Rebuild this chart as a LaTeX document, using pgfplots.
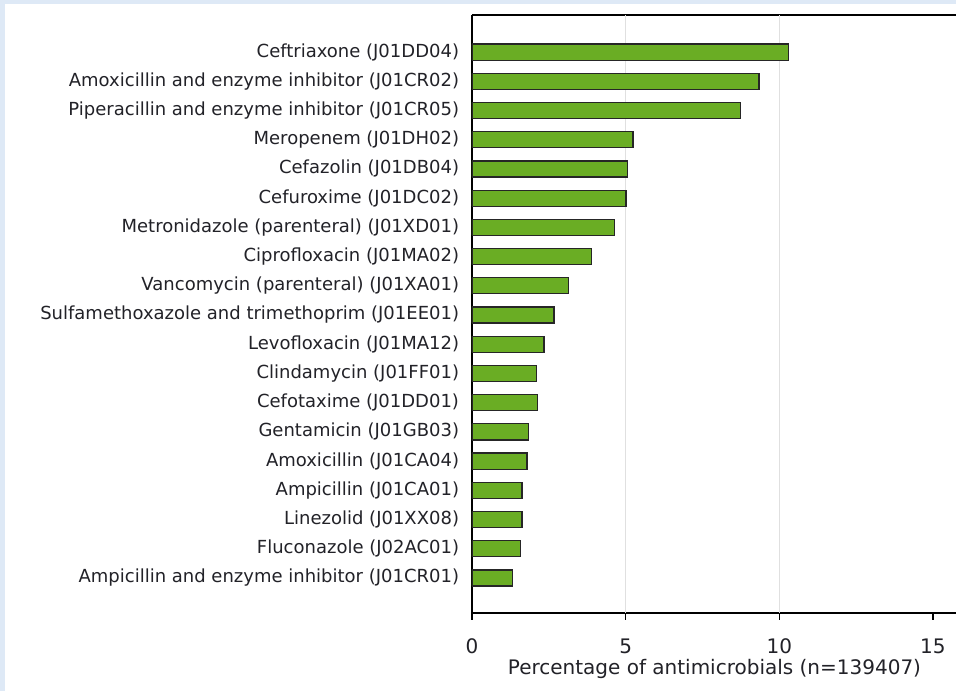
\documentclass[border=0pt]{standalone}
\usepackage{fontspec}
\setmainfont{DejaVu Sans}
\usepackage{pgfplots}
\pgfplotsset{compat=1.18}
\definecolor{bgblue}{RGB}{222,233,246}
\definecolor{bargreen}{RGB}{106,173,36}
\definecolor{txt}{RGB}{34,34,40}

\begin{document}
\begin{tikzpicture}
% page = 956 x 691 px, 1 px = 0.75pt, axis box lower left at (0,0)
\useasboundingbox (-354pt,-58.5pt) rectangle (363pt,459.75pt);
\fill[bgblue] (-354pt,-58.5pt) rectangle (363pt,459.75pt);
\fill[white] (-350pt,-58.5pt) rectangle (363pt,456.75pt);
\begin{axis}[
    at={(0,0)}, anchor=south west,
    scale only axis, width=363pt, height=448.5pt,
    xbar, bar width=0.55,
    xmin=0, xmax=15.75, ymin=-1.2, ymax=19.27,
    axis x line*=box, axis y line*=left,
    axis line style={line width=1.1pt, black},
    xtick={0,5,10,15}, xtick pos=bottom, xtick align=outside,
    x tick style={line width=1.1pt, black}, major tick length=5pt,
    extra x ticks={5,10}, extra x tick labels={},
    extra x tick style={grid=major, tick style={draw=none}},
    grid style={black!12, line width=1pt},
    ytick={0,...,18}, y tick style={draw=none},
    yticklabels={
      Ampicillin and enzyme inhibitor (J01CR01),
      Fluconazole (J02AC01),
      Linezolid (J01XX08),
      Ampicillin (J01CA01),
      Amoxicillin (J01CA04),
      Gentamicin (J01GB03),
      Cefotaxime (J01DD01),
      Clindamycin (J01FF01),
      Levofloxacin (J01MA12),
      Sulfamethoxazole and trimethoprim (J01EE01),
      Vancomycin (parenteral) (J01XA01),
      Ciprofloxacin (J01MA02),
      Metronidazole (parenteral) (J01XD01),
      Cefuroxime (J01DC02),
      Cefazolin (J01DB04),
      Meropenem (J01DH02),
      Piperacillin and enzyme inhibitor (J01CR05),
      Amoxicillin and enzyme inhibitor (J01CR02),
      Ceftriaxone (J01DD04)},
    ticklabel style={text=txt},
    yticklabel style={font=\fontsize{13.5}{16}\selectfont, anchor=east, inner sep=0pt, xshift=-4.5pt},
    xticklabel style={font=\fontsize{15}{18}\selectfont, inner sep=0pt, yshift=-14pt},
    /pgf/number format/assume math mode=true,
    xlabel={Percentage of antimicrobials (n=139407)},
    xlabel style={font=\fontsize{15}{18}\selectfont, text=txt,
      at={(axis description cs:0.501,-0.093)}, anchor=center},
]
\addplot[fill=bargreen, draw=black!85, line width=0.9pt] coordinates {
  (1.31,0) (1.58,1) (1.63,2) (1.63,3) (1.79,4) (1.84,5) (2.13,6)
  (2.11,7) (2.34,8) (2.67,9) (3.14,10) (3.89,11) (4.64,12)
  (5.01,13) (5.07,14) (5.24,15) (8.74,16) (9.34,17) (10.30,18)
};
\end{axis}
\end{tikzpicture}
\end{document}
